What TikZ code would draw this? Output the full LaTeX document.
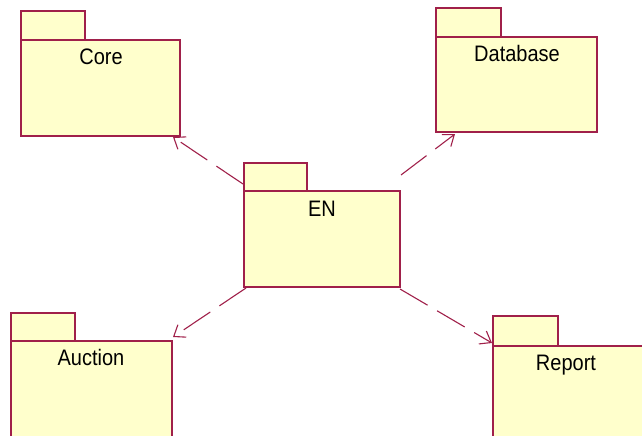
\documentclass[tikz,border=0pt]{standalone}
\usepackage{fontspec}
\setmainfont{Liberation Sans}
\usetikzlibrary{arrows.meta,calc}
\definecolor{pkgline}{HTML}{A0204A}
\definecolor{pkgfill}{HTML}{FFFFCC}
\newcommand{\pkgname}[1]{\scalebox{1}[1.12]{#1}}
\tikzset{
  pkgbox/.style={draw=pkgline, fill=pkgfill, line width=1.3pt, inner sep=0pt, outer sep=0pt, anchor=north west},
  pkglabel/.style={font=\fontsize{20}{24}\selectfont, text=black, anchor=base, inner sep=0pt},
  dep/.style={draw=pkgline, line width=1.1pt, dash pattern=on 32pt off 11pt,
    -{Straight Barb[length=10pt,width=15pt,line width=1.1pt]}}
}
\begin{document}
\begin{tikzpicture}[x=1pt,y=-1pt]
\useasboundingbox (0,0) rectangle (642,436);
% Core
\node[pkgbox, minimum width=64pt, minimum height=29pt] (coretab) at (21,11) {};
\node[pkgbox, minimum width=159pt, minimum height=96pt] (core) at (21,40) {};
\node[pkglabel] (corelbl) at (101,64) {\pkgname{Core}};
% Database
\node[pkgbox, minimum width=65pt, minimum height=29pt] (dbtab) at (436,8) {};
\node[pkgbox, minimum width=161pt, minimum height=95pt] (db) at (436,37) {};
\node[pkglabel] (dblbl) at (517,61) {\pkgname{Database}};
% EN
\node[pkgbox, minimum width=63pt, minimum height=28pt] (entab) at (244,163) {};
\node[pkgbox, minimum width=156pt, minimum height=96pt] (en) at (244,191) {};
\node[pkglabel] (enlbl) at (322,216) {\pkgname{EN}};
% Auction
\node[pkgbox, minimum width=64pt, minimum height=28pt] (autab) at (11,313) {};
\node[pkgbox, minimum width=161pt, minimum height=96pt] (au) at (11,341) {};
\node[pkglabel] (aulbl) at (91,365) {\pkgname{Auction}};
% Report
\node[pkgbox, minimum width=65pt, minimum height=30pt] (reptab) at (493,316) {};
\node[pkgbox, minimum width=160pt, minimum height=96pt] (rep) at (493,346) {};
\node[pkglabel] (replbl) at (566,370) {\pkgname{Report}};
% dependency end points
\coordinate (s1) at ($(entab.south west)+(-1,-7)$);
\coordinate (t1) at ($(core.south east)+(-7,1)$);
\coordinate (s2) at ($(en.north east)+(1,-16)$);
\coordinate (t2) at ($(db.south west)+(19,2)$);
\coordinate (s3) at ($(en.south west)+(2,1)$);
\coordinate (t3) at ($(au.north east)+(1,-4)$);
\coordinate (s4) at ($(en.south east)+(0,2)$);
\coordinate (t4) at ($(rep.north west)+(-1,-3)$);
\draw[dep] (s1) -- (t1);
\draw[dep] (s2) -- (t2);
\draw[dep] (s3) -- (t3);
\draw[dep] (s4) -- (t4);
\end{tikzpicture}
\end{document}
